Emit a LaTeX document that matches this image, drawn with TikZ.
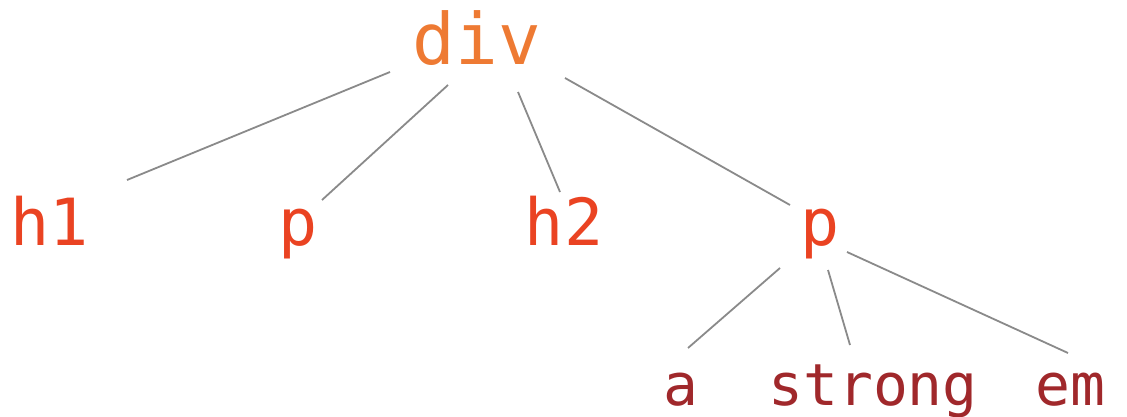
\documentclass[tikz,border=0pt]{standalone}
\usepackage{fontspec}
\setmonofont{DejaVu Sans Mono}
\definecolor{rootc}{HTML}{EE7A33}
\definecolor{midc}{HTML}{EA4322}
\definecolor{leafc}{HTML}{A0282B}
\definecolor{edgec}{HTML}{8A8A8A}
\tikzset{
  lbl/.style={inner sep=0pt, anchor=base, font=\ttfamily},
  rootlbl/.style={lbl, text=rootc, font=\ttfamily\fontsize{71}{71}\selectfont},
  midlbl/.style={lbl, text=midc, font=\ttfamily\fontsize{65}{65}\selectfont},
  leaflbl/.style={lbl, text=leafc, font=\ttfamily\fontsize{58}{58}\selectfont},
  edge/.style={draw=edgec, line width=1.8pt}
}
\begin{document}
\begin{tikzpicture}[x=1pt,y=-1pt]
\useasboundingbox (0,0) rectangle (1127,417);
\node[rootlbl] (div) at (477,65) {div};
\node[midlbl] (h1) at (50,245) {h1};
\node[midlbl] (p1) at (298,245) {p};
\node[midlbl] (h2) at (564,245) {h2};
\node[midlbl] (p2) at (820,245) {p};
\node[leaflbl] (a) at (681,405) {a};
\node[leaflbl] (strong) at (873,405) {strong};
\node[leaflbl] (em) at (1070,405) {em};
\draw[edge] ([shift={(-87,7)}]div.base) -- ([shift={(77,-65)}]h1.base);
\draw[edge] ([shift={(-29,20)}]div.base) -- ([shift={(24,-45)}]p1.base);
\draw[edge] ([shift={(41,27)}]div.base) -- ([shift={(-4,-53)}]h2.base);
\draw[edge] ([shift={(88,13)}]div.base) -- ([shift={(-30,-40)}]p2.base);
\draw[edge] ([shift={(-40,23)}]p2.base) -- ([shift={(7,-57)}]a.base);
\draw[edge] ([shift={(8,25)}]p2.base) -- ([shift={(-23,-60)}]strong.base);
\draw[edge] ([shift={(27,7)}]p2.base) -- ([shift={(-2,-52)}]em.base);
\end{tikzpicture}
\end{document}
